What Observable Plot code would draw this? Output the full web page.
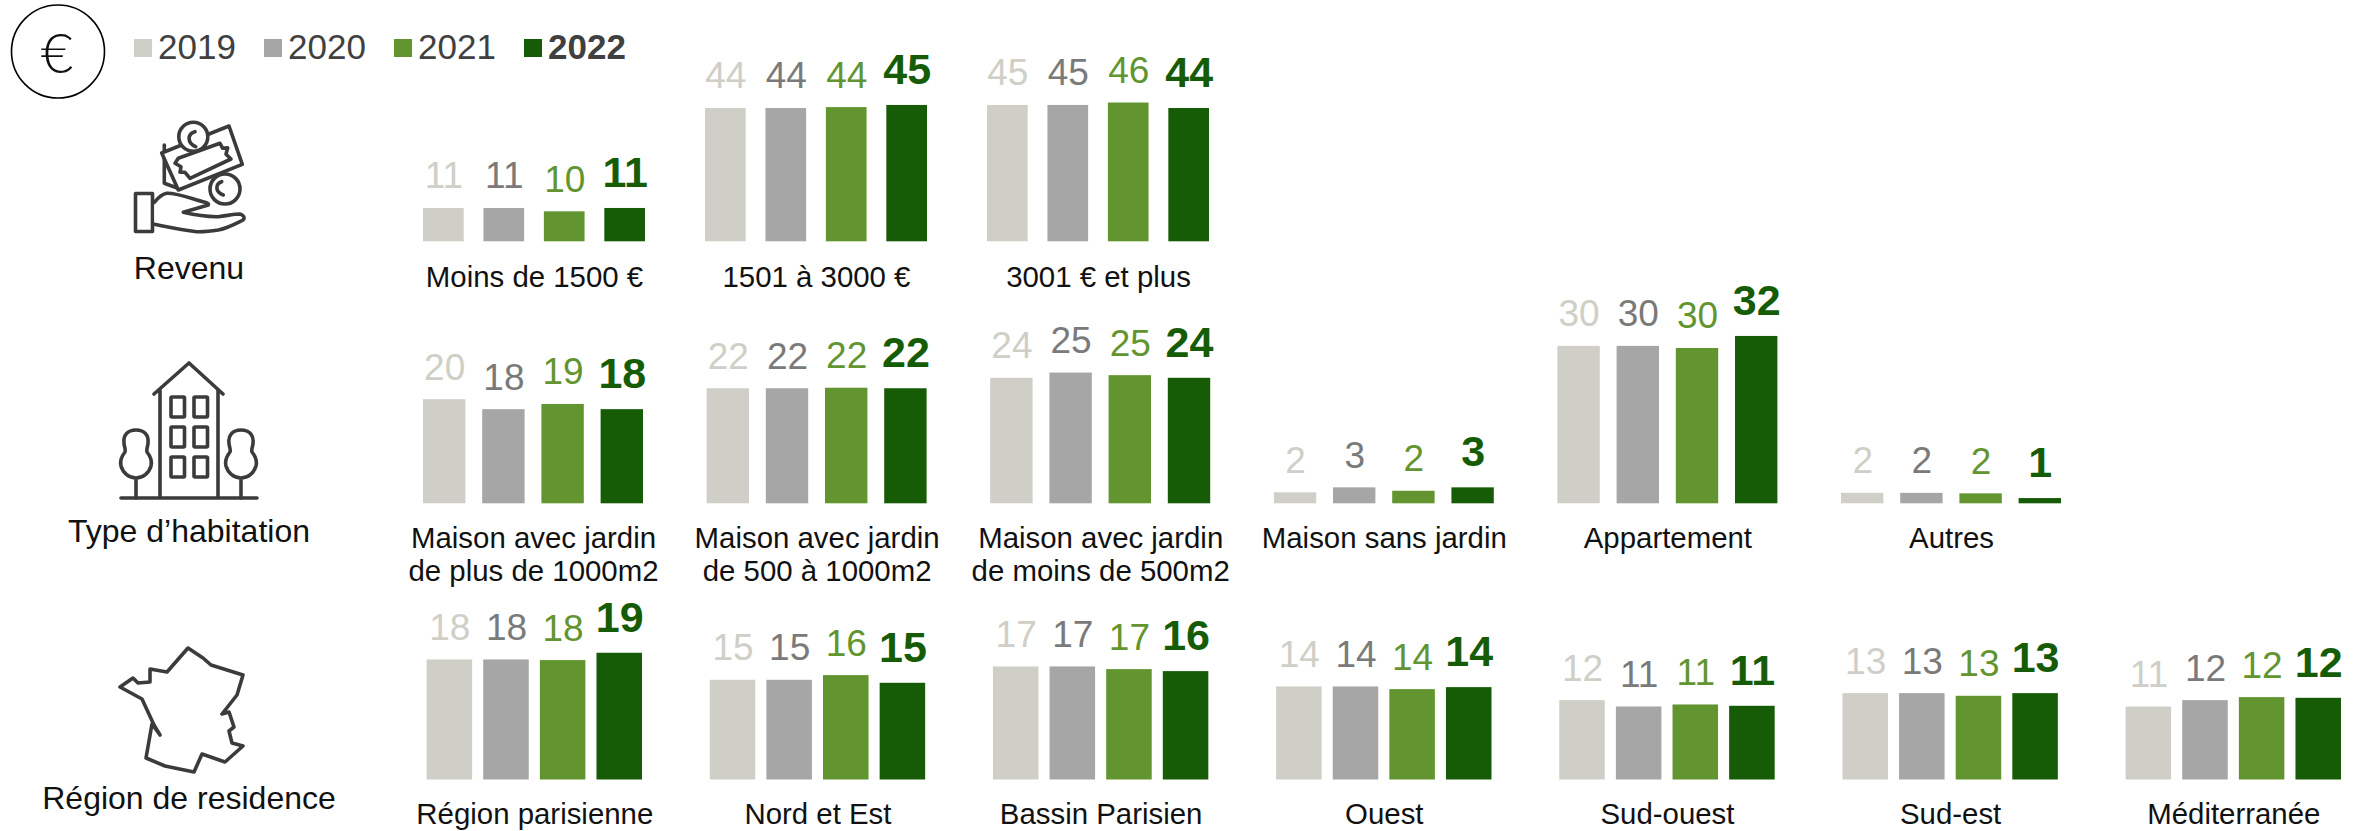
<!DOCTYPE html>
<html lang="fr">
<head>
<meta charset="utf-8">
<script src="https://cdn.jsdelivr.net/npm/d3@7"></script>
<script src="https://cdn.jsdelivr.net/npm/@observablehq/plot@0.6"></script>
<style>
  html, body { margin: 0; padding: 0; background: #fff; }
  #page { position: relative; width: 2369px; height: 831px; overflow: hidden; font-family: "Liberation Sans", Arial, sans-serif; }
  #page > svg { position: absolute; left: 0; }
  .ico { fill: none; stroke: #3b3b3b; stroke-width: 3.6; stroke-linejoin: round; stroke-linecap: round; }
</style>
</head>
<body>
<div id="page"></div>
<script>
const years = ["2019", "2020", "2021", "2022"];
const barColors = ["#cfcfc7", "#a6a6a6", "#62952f", "#165c07"];
const labelColors = ["#cfcfc7", "#7a7a7a", "#62952f", "#165c07"];

const rowTitles = ["Revenu", "Type d\u2019habitation", "R\u00e9gion de residence"];

const revenuGroups = ["Moins de 1500 \u20ac", "1501 \u00e0 3000 \u20ac", "3001 \u20ac et plus"];
const revenuValues = [
  [11, 11, 9.9, 11],
  [44, 44, 44.3, 45],
  [45, 45, 45.8, 44]
];

const habitatGroups = [
  "Maison avec jardin\nde plus de 1000m2",
  "Maison avec jardin\nde 500 \u00e0 1000m2",
  "Maison avec jardin\nde moins de 500m2",
  "Maison sans jardin",
  "Appartement",
  "Autres"
];
const habitatValues = [
  [19.9, 18, 19, 18],
  [22, 22, 22.1, 22],
  [24, 25, 24.5, 24],
  [2.1, 3.05, 2.4, 3.05],
  [30.1, 30.1, 29.7, 32],
  [2, 2, 1.9, 1]
];

const regionGroups = ["R\u00e9gion parisienne", "Nord et Est", "Bassin Parisien", "Ouest", "Sud-ouest", "Sud-est", "M\u00e9diterran\u00e9e"];
const regionValues = [
  [18, 18, 17.9, 19],
  [14.95, 14.95, 15.65, 14.5],
  [16.95, 16.95, 16.55, 16.25],
  [13.95, 13.95, 13.55, 13.85],
  [11.9, 10.95, 11.25, 11.05],
  [12.95, 12.95, 12.55, 12.95],
  [10.95, 11.9, 12.35, 12.25]
];

const font = "Liberation Sans, Arial, sans-serif";
const page = document.getElementById("page");

function row({groups, values, top, height, base, unit, yMax, left, right, bandGap, barGap, labelDy}) {
  const table = groups.flatMap((group, i) => years.map((year, j) => ({group, year, value: values[i][j]})));
  const captions = groups.map(group => ({group}));
  const fig = Plot.plot({
    width: 2369,
    height,
    marginLeft: left,
    marginRight: right,
    marginTop: base - top - yMax * unit,
    marginBottom: top + height - base,
    style: {background: "transparent", overflow: "visible"},
    fx: {domain: groups, paddingInner: bandGap, paddingOuter: 0, round: false, axis: null, label: null},
    x: {domain: years, paddingInner: barGap, paddingOuter: 0, round: false, axis: null, label: null},
    y: {domain: [0, yMax], axis: null, label: null},
    color: {domain: years, range: barColors},
    marks: [
      Plot.barY(table, {fx: "group", x: "year", y: "value", fill: "year"}),
      ...years.map((year, j) => {
        const bold = year === "2022";
        return Plot.text(table.filter(d => d.year === year), {
          fx: "group", x: "year", y: "value",
          text: d => d.value.toFixed(0),
          dy: bold ? -21.5 : -20,
          lineAnchor: "bottom",
          fill: labelColors[j],
          fontSize: bold ? 43 : 37,
          fontWeight: bold ? "bold" : "normal",
          fontFamily: font
        });
      }),
      Plot.text(captions, {
        fx: "group", text: "group",
        frameAnchor: "bottom", lineAnchor: "top", textAnchor: "middle",
        dy: labelDy, lineHeight: 1.13,
        fontSize: 29.4, fill: "#111", fontFamily: font
      })
    ]
  });
  fig.style.top = top + "px";
  page.appendChild(fig);
}

row({groups: revenuGroups, values: revenuValues, top: 0, height: 295, base: 241.3, unit: 3.03, yMax: 60,
     left: 423, right: 1160, bandGap: 60 / 282, barGap: 0.327, labelDy: 21.5});
row({groups: habitatGroups, values: habitatValues, top: 275, height: 317, base: 503.3, unit: 5.23, yMax: 40,
     left: 423, right: 308, bandGap: 63.6 / 283.6, barGap: 0.284, labelDy: 20.5});
row({groups: regionGroups, values: regionValues, top: 592, height: 239, base: 779.5, unit: 6.67, yMax: 25,
     left: 426.6, right: 28, bandGap: 67.8 / 283.3, barGap: 0.196, labelDy: 20});

/* Legend, row titles and pictograms */
const over = d3.select(page).append("svg").attr("width", 2369).attr("height", 831).style("top", 0);

over.append("circle").attr("cx", 58).attr("cy", 51.5).attr("r", 46.5).attr("fill", "none").attr("stroke", "#000").attr("stroke-width", 1.6);
over.append("text").attr("x", 57).attr("y", 73).attr("text-anchor", "middle")
  .attr("font-family", "Lato, 'Open Sans', sans-serif").attr("font-weight", 300).attr("font-size", 56).attr("fill", "#111").text("\u20ac");

const legendSwatchX = [134, 264, 394, 524];
years.forEach((year, i) => {
  over.append("rect").attr("x", legendSwatchX[i]).attr("y", 39).attr("width", 18).attr("height", 18).attr("fill", barColors[i]);
  over.append("text").attr("x", legendSwatchX[i] + 24).attr("y", 59)
    .attr("font-family", font).attr("font-size", 35).attr("fill", "#404040")
    .attr("font-weight", year === "2022" ? "bold" : "normal").text(year);
});

const titleY = [279, 542, 809];
rowTitles.forEach((t, i) => {
  over.append("text").attr("x", 189).attr("y", titleY[i]).attr("text-anchor", "middle")
    .attr("font-family", font).attr("font-size", 32).attr("fill", "#111").text(t);
});

const icons = over.append("g").attr("class", "ico");
/* hand and money */
icons.append("path").attr("d", "M164.3 145 V183.3 L180 189");
icons.append("path").attr("d", "M161.7 153 L229 126 L242.3 164.3 L178.3 190 Z").attr("fill", "#fff");
icons.append("path").attr("d", "M178.3 158.3 L220 143.3 L222.7 148.3 L227.7 147.7 L226 154.3 L231 159 L190 178.3 L185 172.3 L180 172.3 L181 166.7 L175 163.3 Z");
icons.append("circle").attr("cx", 193.3).attr("cy", 136.7).attr("r", 14.5).attr("fill", "#fff");
icons.append("path").attr("d", "M195 131.7 C187 134 187 143 195.7 146.7");
icons.append("circle").attr("cx", 225).attr("cy", 189).attr("r", 15).attr("fill", "#fff");
icons.append("path").attr("d", "M221.7 181.7 C215 184 215 192 223.3 195");
icons.append("rect").attr("x", 135.5).attr("y", 193.5).attr("width", 17).attr("height", 38);
icons.append("path").attr("d", "M154.3 202.3 C158 198 162 194 166.7 193.3 C178 193 192 199 205 202.3 C208 203 209 204 208.3 205 L183.3 212.3 C195 215 207 217 218.3 216.7 C226 216 233 214 240 214 C244 215 245 218 243 220 C235 224 228 228 218.3 230 C212 231 204 232 196.7 231.7 C182 230 168 227 154.3 224.3").attr("fill", "#fff");
/* building and trees */
icons.append("path").attr("d", "M154 394 L189 363 L223 394 M160 390 V498 M218 390 V498 M121 498 H257");
[[171, 397], [194, 397], [171, 427], [194, 427], [171, 457], [194, 457]].forEach(([x, y]) =>
  icons.append("rect").attr("x", x).attr("y", y).attr("width", 13.5).attr("height", 20).attr("rx", 1));
[136, 241].forEach(cx => {
  icons.append("path").attr("d", `M${cx} 430 C${cx - 9} 430 ${cx - 13} 436 ${cx - 12} 443 C${cx - 12} 447 ${cx - 10} 449 ${cx - 11} 452 C${cx - 15} 457 ${cx - 16} 462 ${cx - 15} 466 C${cx - 13} 473 ${cx - 7} 478 ${cx} 478 C${cx + 7} 478 ${cx + 13} 473 ${cx + 15} 466 C${cx + 16} 462 ${cx + 15} 457 ${cx + 11} 452 C${cx + 10} 449 ${cx + 12} 447 ${cx + 12} 443 C${cx + 13} 436 ${cx + 9} 430 ${cx} 430 Z M${cx} 478 V498`);
});
/* France */
const france = [[188,648],[203,658],[211,665],[243,675],[237,695],[222,714],[229,712],[234,727],[229,731],[232,743],[243,746],[225,762],[202,754],[194,772],[165,766],[146,758],[152,724],[160,735],[154,725],[142,699],[120,687],[133,678],[138,683],[150,682],[150,669],[167,672]];
icons.append("path").attr("d", "M" + france.map(p => p.join(" ")).join("L") + "Z");
</script>
</body>
</html>
